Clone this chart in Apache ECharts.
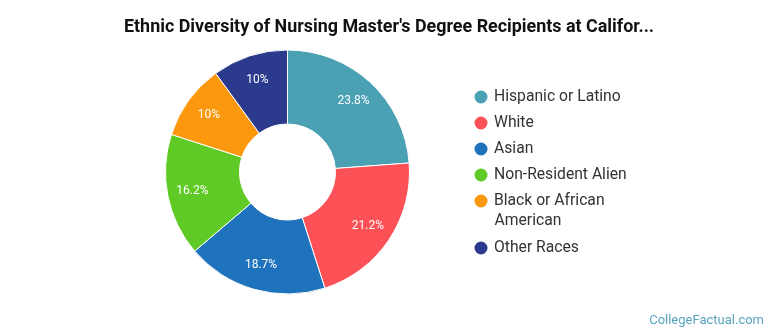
<!DOCTYPE html>
<html>
<head>
<meta charset="utf-8">
<script src="https://cdn.jsdelivr.net/npm/echarts@6/dist/echarts.min.js"></script>
<style>
  html, body { margin: 0; padding: 0; background: #fff; }
  #chart { width: 770px; height: 335px; }
</style>
</head>
<body>
<div id="chart"></div>
<script>
// Ethnic breakdown of nursing master's degree recipients (percent)
const categories = ['Hispanic or Latino', 'White', 'Asian', 'Non-Resident Alien', 'Black or African American', 'Other Races'];
const shares = [23.8, 21.2, 18.7, 16.2, 10, 10];
const colors = ['#4aa1b4', '#fd5158', '#1f73bd', '#5fca25', '#fc980d', '#2c3a8d'];

const chart = echarts.init(document.getElementById('chart'), null, { renderer: 'canvas' });

const legendFont = { fontFamily: 'Roboto', fontSize: 15.7, color: '#333', lineHeight: 21, padding: [0, 0, 0, 0.5] };
const legendCommon = {
  orient: 'vertical',
  left: 467.5,
  icon: 'circle',
  itemWidth: 15,
  itemHeight: 15,
  itemGap: 5,
  textStyle: legendFont
};

// Long legend entries wrap onto a second line, with the marker beside the first line
const wrapAt = { 'Black or African American': ['Black or African', 'American'] };

const pieData = categories.map((name, i) => ({ name, value: shares[i], itemStyle: { color: colors[i] } }));

chart.setOption({
  animation: false,
  title: {
    text: "Ethnic Diversity of Nursing Master's Degree Recipients at Califor...",
    left: 119,
    top: 13.5,
    textStyle: { fontFamily: 'Roboto', fontSize: 17.9, fontWeight: 'bold', color: '#111' }
  },
  legend: [
    Object.assign({}, legendCommon, {
      top: 81.5,
      data: categories.slice(0, 5),
      formatter: name => (wrapAt[name] ? wrapAt[name][0] : name)
    }),
    Object.assign({}, legendCommon, {
      top: 232.5,
      data: categories.slice(5)
    })
  ],
  graphic: [
    {
      type: 'text',
      left: 494.5,
      top: 211,
      style: { text: wrapAt['Black or African American'][1], fontFamily: 'Roboto', fontSize: 15.7, lineHeight: 21, fill: '#333' }
    },
    {
      type: 'text',
      right: 6,
      top: 314,
      style: { text: 'CollegeFactual.com', fontFamily: 'Roboto', fontSize: 13, fill: '#5aa3bf' }
    }
  ],
  series: [
    {
      // donut ring
      type: 'pie',
      center: [287.5, 172],
      radius: [48, 122],
      startAngle: 90,
      clockwise: true,
      itemStyle: { borderColor: '#fff', borderWidth: 1 },
      label: { show: false },
      labelLine: { show: false },
      emphasis: { disabled: true },
      data: pieData
    },
    {
      // transparent ring that carries the percentage labels a little outside mid-ring
      type: 'pie',
      center: [287.5, 172],
      radius: [66, 122],
      startAngle: 90,
      clockwise: true,
      silent: true,
      itemStyle: { color: 'rgba(0,0,0,0)', borderWidth: 0 },
      label: {
        show: true,
        position: 'inside',
        formatter: p => p.value + '%',
        fontFamily: 'Roboto',
        fontSize: 12,
        color: '#fff'
      },
      labelLine: { show: false },
      emphasis: { disabled: true },
      data: categories.map((name, i) => ({ name, value: shares[i] }))
    }
  ]
});
</script>
</body>
</html>
